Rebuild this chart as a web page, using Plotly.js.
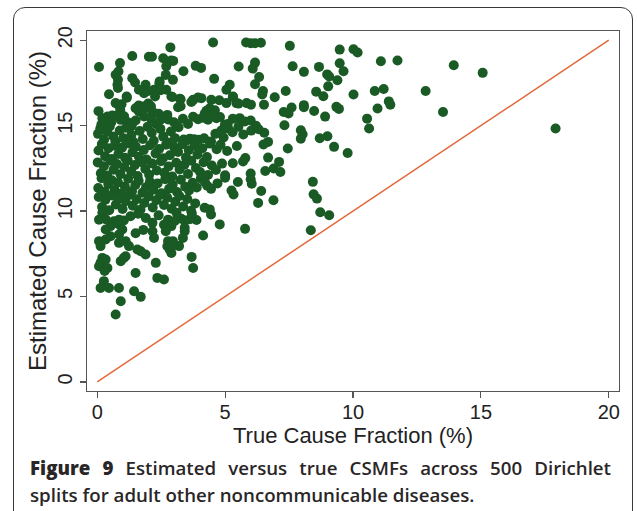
<!DOCTYPE html>
<html><head><meta charset="utf-8">
<script src="https://cdn.plot.ly/plotly-3.0.1.min.js"></script>
<style>
html,body{margin:0;padding:0;background:#fff;}
#wrap{position:relative;width:637px;height:511px;overflow:hidden;background:#fff;}
#frame{position:absolute;left:13px;top:7px;width:620px;height:540px;border:1.5px solid #3a3a3a;border-radius:12px;box-sizing:border-box;}
#chart{position:absolute;left:0;top:0;width:637px;height:511px;}
.cap{position:absolute;left:30px;width:581px;font-family:'Open Sans',sans-serif;font-size:18.7px;font-weight:600;line-height:27px;color:#2a2627;white-space:nowrap;}
.cap b{font-weight:800;}
#cap1{top:454px;text-align:justify;text-align-last:justify;white-space:normal;}
#cap2{top:481px;}
</style></head>
<body>
<div id="wrap">
<div id="frame"></div>
<div id="chart"></div>
<div class="cap" id="cap1"><b>Figure 9</b> Estimated versus true CSMFs across 500 Dirichlet</div>
<div class="cap" id="cap2">splits for adult other noncommunicable diseases.</div>
</div>
<script>
// True cause fraction (x) and estimated cause fraction (y), by region
const g1x = [0.07,0.89,0.83,0.72,1.37,2.02,2.14,2.58,2.86,2.97,2.70,2.90,3.37,3.85,4.06,4.53,5.53,5.82,6.00,6.17,6.40,6.17,6.08,7.53,7.64,8.08,8.67,8.99,9.07,9.48,9.63,9.48,10.02,10.18,11.09,11.74,13.94,15.07,0.81,1.37,2.44,2.68,2.96,4.57,6.33,9.39,1.48];
const g1y = [18.43,18.66,18.17,17.98,19.08,19.03,19.03,18.95,19.58,18.79,18.47,18.82,18.18,18.50,18.38,19.87,18.46,19.87,19.82,19.82,19.85,18.69,18.34,19.67,18.48,18.15,18.44,18.00,17.88,18.65,18.18,19.45,19.47,19.28,18.77,18.81,18.54,18.09,17.68,17.78,17.59,17.97,17.68,17.74,17.85,17.66,17.53];

const g2x = [0.79,0.81,1.89,1.63,1.83,2.22,2.70,2.48,5.05,5.18,6.17,6.48,6.45,7.37,8.56,9.03,10.85,11.20,12.84,0.46,1.15,2.26,2.90,3.23,3.75,3.94,4.07,4.46,5.31,6.94,8.84,10.02,2.94,3.26,4.77,5.30,1.16,2.43,1.99];
const g2y = [17.39,17.20,17.39,17.10,16.90,17.10,17.10,17.07,17.10,17.39,17.42,17.03,16.82,17.03,16.99,17.30,17.03,17.15,17.03,16.84,16.71,16.71,16.71,16.57,16.51,16.65,16.61,16.51,16.71,16.66,16.72,16.82,16.68,16.55,16.49,16.68,16.64,17.46,17.03];

const g3x = [3.68,3.16,4.40,5.44,5.05,5.84,0.72,0.85,1.50,1.76,1.89,2.02,6.01,6.52,7.60,8.08,8.08,8.48,9.35,9.45,10.96,11.40,11.46,1.99,2.10,0.95,0.90,3.26,5.52,1.62,1.63,2.16,2.74,4.27,13.52,7.29,4.60,0.05];
const g3y = [16.38,16.08,16.02,16.32,16.32,16.32,16.32,16.18,16.02,16.12,16.02,16.22,16.23,16.23,16.06,16.20,16.08,15.86,16.10,15.98,16.00,16.42,16.22,16.29,16.14,16.25,15.92,16.14,16.29,16.18,15.83,15.83,15.63,15.87,15.80,15.80,15.90,15.85];

const g4x = [0.20,0.40,0.59,0.79,0.92,1.83,2.09,2.61,2.77,3.35,3.75,3.94,4.14,4.33,4.46,4.66,4.99,5.57,5.77,7.48,7.32,8.91,10.55,0.16,1.20,1.35,1.50,2.30,2.45,3.00,3.10,3.55,4.20,4.80,5.10,5.30,6.00,6.20,0.30,0.55,1.05,2.40];
const g4y = [15.44,15.54,15.60,15.60,15.34,15.54,15.44,15.48,15.36,15.40,15.52,15.38,15.47,15.35,15.58,15.43,15.05,15.44,15.25,15.71,15.02,15.53,15.41,15.06,15.20,15.00,15.30,15.10,15.30,15.20,15.00,15.10,15.70,15.50,15.10,15.40,15.30,15.00,15.30,15.20,15.55,15.70];

const g5x = [0.03,0.12,0.27,0.38,0.49,0.63,0.71,0.88,1.02,1.13,1.34,1.42,1.66,1.78,1.97,2.13,2.21,2.47,2.58,2.76,2.88,3.04,3.18,3.38,3.52,3.62,3.79,3.96,4.18,4.45,4.62,4.85,4.94,5.12,5.29,5.52,5.71,6.02,6.31,6.53,6.68,7.96,8.03,7.96,8.70,9.00,10.63,17.92];
const g5y = [14.52,14.83,14.18,14.66,14.95,14.37,14.08,14.72,14.27,14.88,14.47,14.04,14.69,14.22,14.93,14.58,14.12,14.81,14.36,14.02,14.66,14.27,14.91,14.19,14.15,14.24,14.21,14.18,14.26,14.07,14.52,14.72,14.31,14.83,14.62,14.93,14.48,14.71,14.79,14.58,14.05,14.73,14.50,14.24,14.26,14.38,14.83,14.83];

const g6x = [0.05,0.18,0.31,0.44,0.58,0.69,0.83,0.97,1.09,1.24,1.38,1.51,1.63,1.82,1.93,2.07,2.28,2.42,2.57,2.69,2.84,3.01,3.16,3.33,3.47,3.58,3.81,3.92,4.11,4.29,4.41,4.67,4.82,5.08,5.46,5.79,6.50,6.68,7.45,9.26,9.79];
const g6y = [13.55,13.92,13.21,13.68,13.05,13.83,13.34,13.71,13.12,13.96,13.44,13.77,13.18,13.58,13.02,13.85,13.37,13.64,13.09,13.88,13.27,13.73,13.46,13.91,13.13,13.56,13.83,13.31,13.68,13.16,13.95,13.62,13.88,13.52,13.81,13.10,13.90,13.13,13.66,13.76,13.40];

const g7x = [0.02,0.14,0.26,0.39,0.52,0.64,0.77,0.91,1.06,1.19,1.33,1.47,1.58,1.71,1.88,2.03,2.15,2.33,2.49,2.62,2.79,2.93,3.09,3.22,3.41,3.55,3.68,3.86,4.02,4.16,4.33,4.48,4.64,4.88,5.00,5.30,5.70,6.00,6.57,6.90,7.11,7.16];
const g7y = [12.85,12.21,12.63,12.08,12.94,12.42,12.75,12.16,12.58,12.97,12.31,12.69,12.05,12.88,12.47,12.12,12.79,12.38,12.92,12.24,12.61,12.03,12.83,12.44,12.71,12.17,12.95,12.52,12.29,12.86,12.11,12.67,12.41,12.78,12.10,12.80,12.90,12.20,12.35,12.49,12.88,12.29];

const g8x = [0.04,0.17,0.29,0.43,0.56,0.68,0.81,0.94,1.08,1.21,1.36,1.49,1.62,1.77,1.91,2.06,2.19,2.36,2.51,2.66,2.81,2.95,3.12,3.27,3.44,3.59,3.73,3.89,4.05,4.21,4.30,4.45,4.70,5.00,5.25,5.50,6.00,6.04,6.41,8.43];
const g8y = [11.35,11.92,11.13,11.58,11.81,11.24,11.67,11.02,11.44,11.89,11.16,11.53,11.78,11.07,11.39,11.71,11.25,11.62,11.04,11.87,11.31,11.55,11.12,11.83,11.42,11.21,11.66,11.38,11.91,11.69,11.48,11.30,11.62,11.95,11.20,11.70,11.86,11.60,11.18,11.71];

const g9x = [0.06,0.19,0.32,0.47,0.58,0.73,0.86,0.99,1.11,1.26,1.39,1.54,1.69,1.84,2.01,2.17,2.31,2.46,2.61,2.74,2.91,3.05,3.21,3.36,3.52,3.67,3.83,4.20,4.40,5.33,6.29,6.89,8.46,8.59];
const g9y = [10.82,10.24,10.67,10.05,10.91,10.39,10.74,10.12,10.58,10.96,10.31,10.69,10.08,10.47,10.85,10.21,10.63,10.94,10.36,10.78,10.14,10.55,10.88,10.27,10.71,10.02,10.45,10.20,10.10,10.97,10.48,10.63,10.98,10.73];

const g10x = [0.07,0.33,0.65,0.85,1.04,2.77,3.03,3.29,3.42,3.62,3.88,4.79,0.52,0.85,2.16,2.61,2.90,3.42,8.72,9.07,4.45,1.30,1.60,1.90,2.40,0.20,3.10,3.70];
const g10y = [9.50,9.52,9.40,9.50,9.45,9.50,9.42,9.55,9.45,9.52,9.48,9.22,9.12,9.22,9.31,9.20,9.12,9.02,9.93,9.76,9.80,9.70,9.85,9.60,9.75,9.90,9.90,9.85];

const g11x = [0.33,0.98,0.85,0.52,0.33,0.07,0.85,1.11,2.16,2.22,2.68,2.99,2.77,2.96,3.42,3.35,4.14,5.78,8.35,1.50,1.80];
const g11y = [8.92,8.92,8.63,8.53,8.34,8.24,8.14,8.24,8.82,8.43,8.82,8.00,8.24,8.24,8.82,8.43,8.57,8.96,8.88,8.70,8.90];

const g12x = [0.13,1.24,1.57,1.70,1.89,2.74,2.86,3.20,2.83,2.90,0.20,0.13,0.07,0.33,0.40,0.92,1.04,1.11,1.50,2.29,2.35,2.61,0.26,0.13,0.46,0.85,1.44,1.70,0.92,0.72,3.69,3.75,0.29];
const g12y = [7.95,7.95,7.75,7.65,7.46,7.94,7.94,7.95,7.75,7.55,7.26,6.97,6.77,7.17,6.67,7.07,7.26,7.36,6.38,6.97,6.09,6.00,5.90,5.50,5.50,5.50,5.31,4.98,4.72,3.95,7.32,6.67,6.50];

const trueCF = [].concat(g1x,g2x,g3x,g4x,g5x,g6x,g7x,g8x,g9x,g10x,g11x,g12x);
const estCF  = [].concat(g1y,g2y,g3y,g4y,g5y,g6y,g7y,g8y,g9y,g10y,g11y,g12y);

const refLineX = [0, 20];
const refLineY = [0, 20];
const tickVals = [0, 5, 10, 15, 20];
const tickText = ['0', '5', '10', '15', '20'];
const xTitle = 'True Cause Fraction (%)';
const yTitle = 'Estimated Cause Fraction (%)';

const traces = [
  {x: refLineX, y: refLineY, type: 'scatter', mode: 'lines',
   line: {color: 'rgb(226,104,58)', width: 1.5}, hoverinfo: 'skip'},
  {x: trueCF, y: estCF, type: 'scatter', mode: 'markers',
   marker: {size: 10, color: 'rgb(26,90,36)', line: {width: 0}}}
];

const axisCommon = {
  tickvals: tickVals, ticktext: tickText, ticks: 'outside', ticklen: 6, tickwidth: 1.2,
  tickcolor: '#555', showgrid: false, zeroline: false, showline: true, mirror: true,
  linecolor: '#555', linewidth: 1.3, automargin: false,
  tickfont: {size: 20, color: '#222', family: '"Liberation Sans", Arial, sans-serif'}
};

const layout = {
  width: 637, height: 511,
  margin: {l: 87, r: 18, t: 31, b: 120, pad: 0},
  paper_bgcolor: 'rgba(0,0,0,0)', plot_bgcolor: '#ffffff',
  showlegend: false,
  font: {family: '"Liberation Sans", Arial, sans-serif', color: '#222'},
  xaxis: Object.assign({}, axisCommon, {
    range: [-0.4, 20.4], ticklabelstandoff: -3,
    title: {text: xTitle, font: {size: 22, color: '#222'}, standoff: 0}
  }),
  yaxis: Object.assign({}, axisCommon, {
    range: [-0.53, 20.54], tickangle: -90,
    title: {text: yTitle, font: {size: 24, color: '#222'}, standoff: 0}
  })
};

Plotly.newPlot('chart', traces, layout, {staticPlot: true, displayModeBar: false});
</script>
</body></html>
